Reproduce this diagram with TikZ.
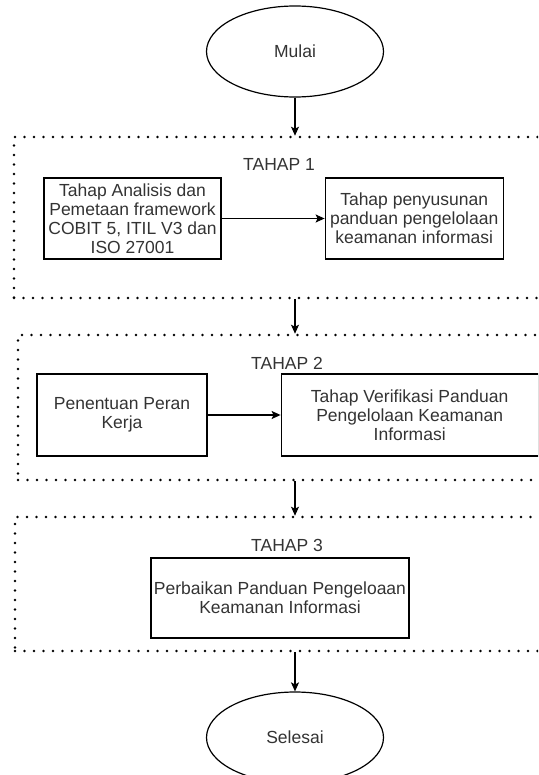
\documentclass[tikz,border=0pt]{standalone}
\usepackage{fontspec}
\setmainfont{Liberation Sans}
\usetikzlibrary{arrows.meta, positioning, shapes.geometric}

\begin{document}
\begin{tikzpicture}[
  x=1pt, y=-1pt,
  every node/.style={font=\fontsize{17.5}{19}\selectfont, text=black!80},
  terminal/.style={draw, ellipse, line width=1.2pt, minimum width=177pt, minimum height=91pt},
  proc/.style={draw, line width=1.2pt, align=center, inner sep=1pt},
  tahapbox/.style={draw, line width=2.6pt, line cap=round, dash pattern=on 0pt off 9.5pt, minimum width=566pt},
  arrow/.style={-{Stealth[length=9pt, width=8pt, inset=2pt]}, line width=1.2pt}
]
\useasboundingbox (0,0) rectangle (538,775);
\clip (0,0) rectangle (538,775);

\node[terminal] (mulai) at (295,51.5) {Mulai};

\node[tahapbox, minimum height=161pt] (tahap1) at (297,217.5) {};
\node (lbl1) at (279,164) {TAHAP 1};
\node[proc, minimum width=177pt, minimum height=81pt] (analisis) at (132.5,218.5) {Tahap Analisis dan\\Pemetaan framework\\COBIT 5, ITIL V3 dan\\ISO 27001};
\node[proc, minimum width=178pt, minimum height=81pt, right=103pt of analisis] (susun) {Tahap penyusunan\\panduan pengelolaan\\keamanan informasi};

\node[tahapbox, minimum height=145pt] (tahap2) at (301,407.5) {};
\node (lbl2) at (287,363) {TAHAP 2};
\node[proc, minimum width=170pt, minimum height=82pt] (peran) at (122,415) {Penentuan Peran\\Kerja};
\node[proc, minimum width=257pt, minimum height=82pt, right=73pt of peran] (verif) {Tahap Verifikasi Panduan\\Pengelolaan Keamanan\\Informasi};

\node[tahapbox, minimum height=134pt] (tahap3) at (298,584) {};
\node (lbl3) at (287,545) {TAHAP 3};
\node[proc, minimum width=258pt, minimum height=80pt] (perbaikan) at (280,598) {Perbaikan Panduan Pengeloaan\\Keamanan Informasi};

\node[terminal] (selesai) at (295,737.5) {Selesai};

\draw[arrow] (mulai) -- (mulai |- tahap1.north);
\draw[arrow] (analisis) -- (susun);
\draw[arrow] (mulai |- tahap1.south) -- (mulai |- tahap2.north);
\draw[arrow] (peran) -- (verif);
\draw[arrow] (mulai |- tahap2.south) -- (mulai |- tahap3.north);
\draw[arrow] (mulai |- tahap3.south) -- (selesai);

\end{tikzpicture}
\end{document}
